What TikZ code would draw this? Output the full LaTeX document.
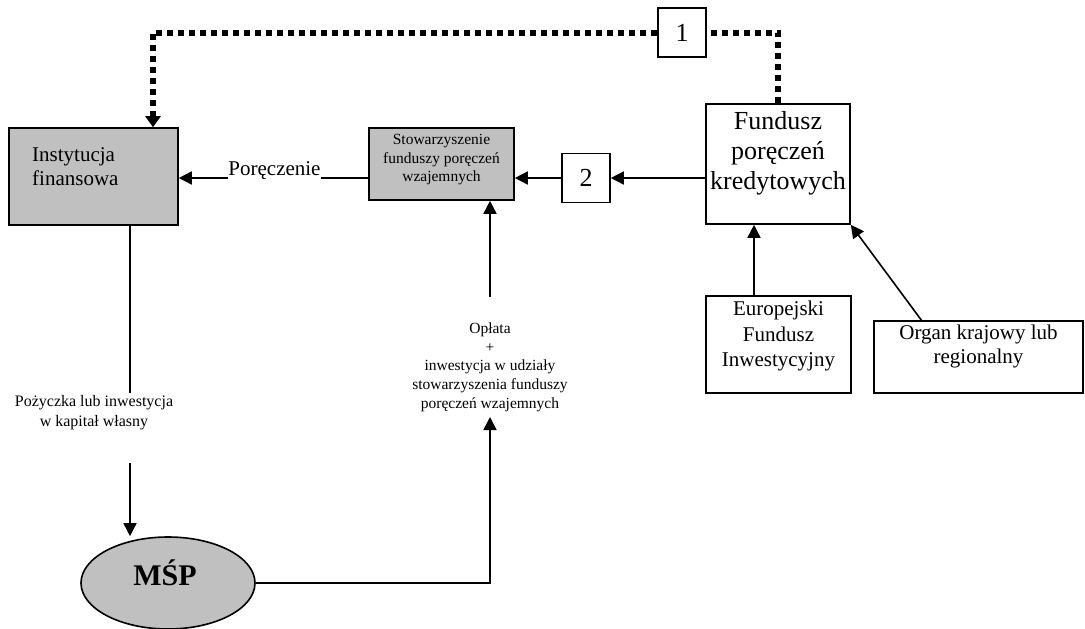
\documentclass[tikz,border=0pt]{standalone}
\usepackage{fontspec}
\setmainfont{Liberation Serif}
\usetikzlibrary{arrows.meta,shapes.geometric}
\definecolor{boxgray}{HTML}{C0C0C0}
\newcommand{\fsz}[2]{\fontsize{#1pt}{#2pt}\selectfont}
\begin{document}
\begin{tikzpicture}[x=1pt,y=-1pt,
  box/.style={draw, line width=1.6pt, inner sep=0pt},
  gbox/.style={box, fill=boxgray},
  txt/.style={inner sep=0pt, align=center},
  arr/.style={line width=1.6pt, -{Triangle[length=13pt,width=13pt]}},
  ln/.style={line width=1.6pt},
  dotline/.style={line width=6pt, dash pattern=on 6pt off 5pt},
]
\useasboundingbox (0,0) rectangle (1085,629);

% boxes
\node[gbox, minimum width=169pt, minimum height=97pt] (inst) at (93.5,176.5) {};
\node[gbox, minimum width=145pt, minimum height=72pt] (stow) at (441.5,164) {};
\node[box, minimum width=48pt, minimum height=49pt, font=\fsz{26}{30}] (box2) at (586,178) {2};
\node[box, minimum width=48pt, minimum height=49pt, font=\fsz{26}{30}] (box1) at (682,32.5) {1};
\node[box, minimum width=144pt, minimum height=120pt] (fund) at (778,164) {};
\node[box, minimum width=145pt, minimum height=97pt] (eur) at (778.5,344.5) {};
\node[box, minimum width=209pt, minimum height=72pt] (organ) at (978.5,357) {};
\node[ellipse, draw, line width=1.6pt, fill=boxgray, minimum width=174pt, minimum height=92pt, inner sep=0pt] (msp) at (168,583) {};

% texts
\node[txt, align=left, anchor=west, font=\fsz{21}{24}] (instT) at (32,167) {Instytucja\\finansowa};
\node[txt, font=\fsz{15.5}{18.5}] (stowT) at (441.5,160) {Stowarzyszenie\\funduszy poręczeń\\wzajemnych};
\node[txt, font=\fsz{26}{30}] (fundT) at (778,153) {Fundusz\\poręczeń\\kredytowych};
\node[txt, font=\fsz{21}{25.5}] (eurT) at (778.5,336) {Europejski\\Fundusz\\Inwestycyjny};
\node[txt, font=\fsz{21}{23.5}] (orgT) at (978.5,346.5) {Organ krajowy lub\\regionalny};
\node[txt, font=\fsz{16}{20}] (pozT) at (94,413) {Pożyczka lub inwestycja\\w kapitał własny};
\node[txt, font=\fsz{15.5}{18.7}] (oplT) at (490,367) {Opłata\\+\\inwestycja w udziały\\stowarzyszenia funduszy\\poręczeń wzajemnych};
\node[txt, font=\bfseries\fsz{30}{34}] (mspT) at (165,573) {MŚP};

% coordinates
\coordinate (dtop) at (153,32.5);
\coordinate (lA) at (130,393);
\coordinate (lB) at (130,463);
\coordinate (rA) at (490,417);
\coordinate (rB) at (490,297);
\coordinate (eA) at (754,296);
\coordinate (oA) at (922,321);

% dotted connector
\draw[dotline] (fund.north) -- (fund.north |- box1.east) -- (box1.east);
\draw[dotline, -{Triangle[length=11pt,width=15pt]}] (box1.west) -- (dtop) -- (dtop |- inst.north);

% solid connectors
\draw[arr] (fund.west |- box2.east) -- (box2.east);
\draw[arr] (box2.west) -- (box2.west -| stow.east);
\draw[arr] (stow.west |- box2.center) -- (inst.east |- box2.center);
\node[txt, fill=white, inner ysep=5pt, font=\fsz{21}{24}] (por) at (274.5,171) {Poręczenie};

\draw[ln] (lA |- inst.south) -- (lA);
\draw[arr] (lB) -- (lB |- msp.north);
\draw[arr] (msp.east) -| (rA);
\draw[arr] (rB) -- (rB |- stow.south);
\draw[arr] (eA) -- (eA |- fund.south);
\draw[arr] (oA) -- (fund.south east);
\end{tikzpicture}
\end{document}
